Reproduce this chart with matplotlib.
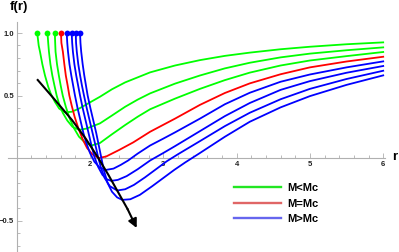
import matplotlib.pyplot as plt
from matplotlib.lines import Line2D
from matplotlib.ticker import MultipleLocator

# f(r) curves: three M<Mc, one M=Mc, four M>Mc
r_g1 = [1.28, 1.30, 1.318, 1.35, 1.386, 1.43, 1.468, 1.52, 1.58, 1.66, 1.75, 1.85, 2.0, 2.136,
        2.3, 2.48, 2.82, 3.16, 3.5, 3.84, 4.18, 4.6, 5.0, 5.5, 6.0]
f_g1 = [1.0, 0.9, 0.85, 0.75, 0.66, 0.57, 0.51, 0.45, 0.395, 0.365, 0.37, 0.395, 0.445, 0.49,
        0.55, 0.605, 0.685, 0.74, 0.783, 0.817, 0.843, 0.87, 0.89, 0.91, 0.925]

r_g2 = [1.42, 1.43, 1.44, 1.46, 1.486, 1.515, 1.545, 1.58, 1.63, 1.69, 1.76, 1.85, 1.95, 2.136,
        2.3, 2.48, 2.65, 2.82, 3.16, 3.5, 3.84, 4.18, 4.6, 5.0, 5.5, 6.0]
f_g2 = [1.0, 0.92, 0.85, 0.75, 0.66, 0.58, 0.5, 0.43, 0.36, 0.3, 0.25, 0.225, 0.235, 0.277,
        0.34, 0.41, 0.467, 0.517, 0.595, 0.66, 0.717, 0.762, 0.805, 0.835, 0.862, 0.885]

r_g3 = [1.52, 1.525, 1.53, 1.55, 1.575, 1.60, 1.628, 1.67, 1.72, 1.78, 1.85, 1.93, 2.02, 2.136,
        2.3, 2.48, 2.65, 2.82, 3.16, 3.5, 3.84, 4.18, 4.6, 5.0, 5.5, 6.0]
f_g3 = [1.0, 0.92, 0.85, 0.75, 0.66, 0.58, 0.5, 0.41, 0.32, 0.24, 0.17, 0.125, 0.10, 0.12,
        0.19, 0.264, 0.33, 0.39, 0.475, 0.553, 0.623, 0.683, 0.74, 0.78, 0.815, 0.848]

r_red = [1.604, 1.61, 1.63, 1.65, 1.67, 1.695, 1.718, 1.75, 1.79, 1.84, 1.9, 1.96, 2.03, 2.12,
         2.22, 2.4, 2.59, 2.82, 3.16, 3.5, 3.84, 4.18, 4.6, 5.0, 5.5, 6.0]
f_red = [1.0, 0.92, 0.85, 0.75, 0.66, 0.58, 0.5, 0.42, 0.33, 0.24, 0.15, 0.08, 0.03, 0.0,
         0.012, 0.065, 0.125, 0.21, 0.315, 0.425, 0.52, 0.597, 0.67, 0.725, 0.772, 0.81]

r_b1 = [1.682, 1.69, 1.70, 1.72, 1.745, 1.77, 1.795, 1.83, 1.87, 1.91, 1.95, 2.0, 2.06, 2.13,
        2.21, 2.32, 2.42, 2.52, 2.65, 2.82, 3.0, 3.16, 3.5, 3.84, 4.18, 4.6, 5.0, 5.5, 6.0]
f_b1 = [1.0, 0.92, 0.85, 0.75, 0.66, 0.58, 0.5, 0.4, 0.3, 0.2, 0.12, 0.04, -0.03, -0.075,
        -0.096, -0.085, -0.055, -0.02, 0.035, 0.1, 0.155, 0.205, 0.315, 0.43, 0.522, 0.61,
        0.668, 0.725, 0.773]

r_b2 = [1.75, 1.757, 1.767, 1.787, 1.812, 1.838, 1.864, 1.90, 1.94, 1.98, 2.02, 2.06, 2.11, 2.17,
        2.23, 2.29, 2.38, 2.5, 2.65, 2.82, 3.0, 3.16, 3.5, 3.84, 4.18, 4.6, 5.0, 5.5, 6.0]
f_b2 = [1.0, 0.92, 0.85, 0.75, 0.66, 0.58, 0.5, 0.4, 0.3, 0.2, 0.1, 0.01, -0.07, -0.135,
        -0.17, -0.183, -0.175, -0.145, -0.09, -0.02, 0.04, 0.095, 0.215, 0.335, 0.44, 0.545,
        0.615, 0.682, 0.736]

r_b3 = [1.805, 1.81, 1.82, 1.84, 1.865, 1.89, 1.918, 1.955, 1.995, 2.035, 2.075, 2.11, 2.15, 2.2,
        2.27, 2.37, 2.48, 2.6, 2.75, 2.9, 3.05, 3.2, 3.5, 3.84, 4.18, 4.6, 5.0, 5.5, 6.0]
f_b3 = [1.0, 0.92, 0.85, 0.75, 0.66, 0.58, 0.5, 0.4, 0.3, 0.2, 0.1, 0.01, -0.08, -0.16,
        -0.225, -0.26, -0.25, -0.215, -0.155, -0.09, -0.025, 0.03, 0.135, 0.255, 0.362, 0.47,
        0.553, 0.632, 0.698]

r_b4 = [1.864, 1.87, 1.88, 1.90, 1.922, 1.945, 1.968, 2.005, 2.045, 2.085, 2.12, 2.155, 2.19, 2.24,
        2.3, 2.37, 2.44, 2.55, 2.68, 2.85, 3.0, 3.15, 3.3, 3.5, 3.84, 4.18, 4.6, 5.0, 5.5, 6.0]
f_b4 = [1.0, 0.92, 0.85, 0.75, 0.66, 0.58, 0.5, 0.4, 0.3, 0.2, 0.1, 0.0, -0.1, -0.2,
        -0.27, -0.315, -0.335, -0.33, -0.295, -0.225, -0.16, -0.095, -0.035, 0.04, 0.17, 0.29,
        0.405, 0.495, 0.585, 0.661]

# black arrow through the minima
r_arrow = [1.287, 1.523, 1.754, 1.945, 2.113, 2.252, 2.382, 2.512, 2.637]
f_arrow = [0.624, 0.464, 0.304, 0.152, 0.0, -0.136, -0.272, -0.408, -0.56]

green = '#00ff00'
red = '#ff0000'
blue = '#0000ff'

curves = [(r_g1, f_g1, green), (r_g2, f_g2, green), (r_g3, f_g3, green),
          (r_red, f_red, red),
          (r_b1, f_b1, blue), (r_b2, f_b2, blue), (r_b3, f_b3, blue), (r_b4, f_b4, blue)]

fig = plt.figure(figsize=(3.99, 2.52), dpi=100)
ax = fig.add_axes([8 / 399, 0, 377 / 399, 230 / 252])

for r, f, c in curves:
    ax.plot(r, f, color=c, lw=1.3, zorder=3, solid_joinstyle='round')
    ax.plot(r[0], f[0], 'o', color=c, ms=4.2, mew=0, zorder=4)

ax.plot(r_arrow[:-1], f_arrow[:-1], color='black', lw=1.5, zorder=5)
ax.annotate('', xy=(r_arrow[-1], f_arrow[-1]), xytext=(r_arrow[-2], f_arrow[-2]),
            arrowprops=dict(arrowstyle='-|>', color='black', lw=1.5,
                            mutation_scale=13, shrinkA=0, shrinkB=0), zorder=5)

ax.set_xlim(0.8813, 6.0246)
ax.set_ylim(-0.752, 1.088)

ax.spines['left'].set_position(('data', 1))
ax.spines['bottom'].set_position(('data', 0))
ax.spines['top'].set_visible(False)
ax.spines['right'].set_visible(False)
for s in ['left', 'bottom']:
    ax.spines[s].set_color('#b0b0b0')
    ax.spines[s].set_linewidth(0.8)

ax.set_xticks([2, 3, 4, 5, 6])
ax.set_yticks([-0.5, 0.5, 1.0])
ax.set_yticklabels(['\u22120.5', '0.5', '1.0'])
ax.xaxis.set_minor_locator(MultipleLocator(0.2))
ax.yaxis.set_minor_locator(MultipleLocator(0.1))
ax.tick_params(which='both', direction='in', color='#b0b0b0', width=0.6,
               labelsize=5.5, labelcolor='#222222', pad=2)
ax.tick_params(which='major', length=3.5)
ax.tick_params(which='minor', length=2)
for lab in ax.get_xticklabels() + ax.get_yticklabels():
    lab.set_fontfamily('Liberation Sans')
    lab.set_fontweight('bold')

fig.text(19 / 399, 1 - 7 / 252, 'f(r)', ha='center', va='center', fontsize=9.5,
         fontweight='bold', family='Liberation Sans')
fig.text(395 / 399, 1 - 157 / 252, 'r', ha='center', va='center', fontsize=9.5,
         fontweight='bold', family='Liberation Sans')

handles = [Line2D([], [], color='#22e622', lw=1.7),
           Line2D([], [], color='#e06666', lw=1.7),
           Line2D([], [], color='#6666ee', lw=1.7)]
ax.legend(handles, ['M<Mc', 'M=Mc', 'M>Mc'], loc='upper left',
          bbox_to_anchor=(234 / 399, 1 - 183 / 252), bbox_transform=fig.transFigure,
          frameon=False, borderpad=0, borderaxespad=0, handlelength=4.2,
          handletextpad=0.55, labelspacing=0.5,
          prop=dict(family='Liberation Sans', weight='bold', size=8))

fig.savefig('out.png', dpi=100)
